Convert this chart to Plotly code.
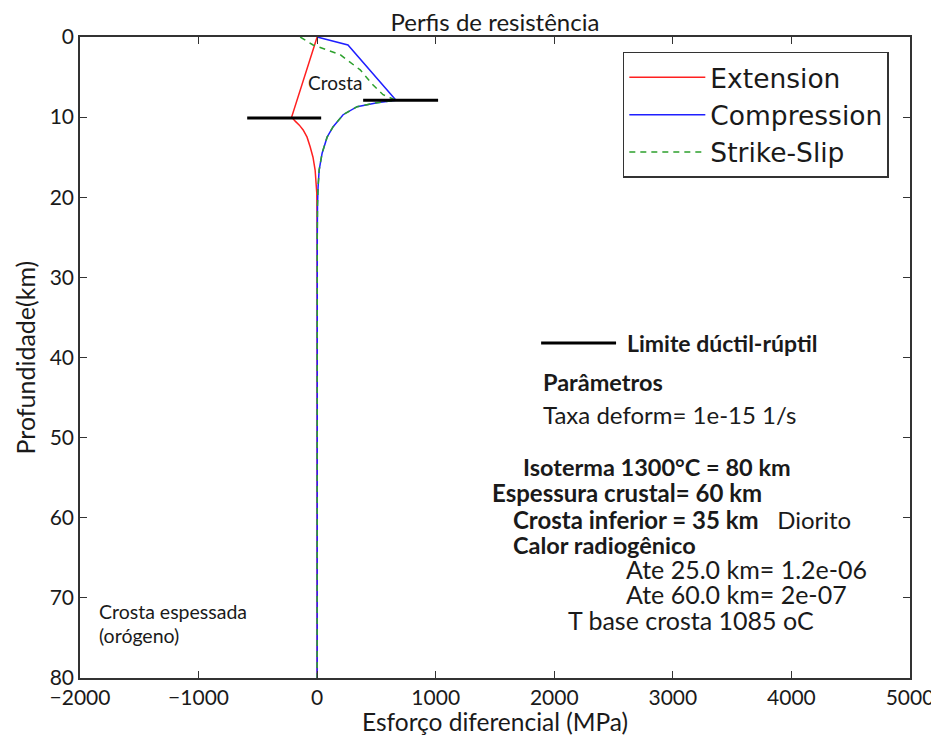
import plotly.graph_objects as go

# Perfis de resistencia
ext_depth = [0, 10.0, 10.5, 11.0, 11.6, 12.5, 13.7, 15.0, 16.6, 18.0, 19.5, 22.0, 25.0, 80.0]
ext_stress = [0, -215, -185, -150, -118, -85, -59, -35, -17, -8, -3, -1, 0, 0]

comp_depth = [0, 1.0, 7.9, 8.2, 8.7, 9.7, 11.2, 12.5, 14.5, 16.6, 18.7, 21.0, 25.0, 80.0]
comp_stress = [0, 260, 665, 506, 337, 219, 135, 84, 42, 17, 8, 3, 1, 0]

ss_depth = [0, 1.0, 2.2, 4.1, 6.0, 7.2, 7.9, 8.2, 8.7, 9.7, 11.2, 12.5, 14.5, 16.6, 18.7, 21.0, 25.0, 80.0]
ss_stress = [-143, -34, 194, 363, 472, 556, 665, 506, 337, 219, 135, 84, 42, 17, 8, 3, 1, 0]

# limites ductil-ruptil
bdt_ext_x = [-590, 34]
bdt_ext_y = [10.1, 10.1]
bdt_comp_x = [388, 1020]
bdt_comp_y = [7.9, 7.9]
key_x = [1889, 2521]
key_y = [38.2, 38.2]

TEXT_FONT = "Lato, 'Open Sans', sans-serif"
LEGEND_FONT = "'DejaVu Sans', sans-serif"
INK = "#1a1a1a"

fig = go.Figure()

fig.add_trace(go.Scatter(x=ext_stress, y=ext_depth, mode="lines", name="Extension",
                         legendgroup="a", line=dict(color="#ff2020", width=1.5)))
fig.add_trace(go.Scatter(x=comp_stress, y=comp_depth, mode="lines", name="Compression",
                         legendgroup="b", line=dict(color="#1f1fff", width=1.5)))
fig.add_trace(go.Scatter(x=ss_stress, y=ss_depth, mode="lines", name="Strike-Slip",
                         legendgroup="c", line=dict(color="#2ca02c", width=1.5, dash="6px,5px")))

for xs, ys in [(bdt_ext_x, bdt_ext_y), (bdt_comp_x, bdt_comp_y), (key_x, key_y)]:
    fig.add_trace(go.Scatter(x=xs, y=ys, mode="lines", showlegend=False,
                             line=dict(color="black", width=3)))

# (texto, x, profundidade, tamanho, ancora)
notes = [
    ("Crosta", 152, 5.7, 19, "center"),
    ("<b>Limite dúctil-rúptil</b>", 2597, 38.2, 23, "left"),
    ("<b>Parâmetros</b>", 1889, 43.1, 23.5, "left"),
    ("Taxa deform= 1e-15 1/s", 1889, 47.1, 24, "left"),
    ("<b>Isoterma 1300°C = 80 km</b>", 1720, 53.7, 23.5, "left"),
    ("<b>Espessura crustal= 60 km</b>", 1459, 56.8, 24, "left"),
    ("<b>Crosta inferior = 35 km</b>   Diorito", 1636, 60.2, 24, "left"),
    ("<b>Calor radiogênico</b>", 1636, 63.4, 23.5, "left"),
    ("Ate 25.0 km= 1.2e-06", 2589, 66.4, 25, "left"),
    ("Ate 60.0 km= 2e-07", 2589, 69.5, 25, "left"),
    ("T base crosta 1085 oC", 2100, 72.7, 25, "left"),
    ("Crosta espessada", -1855, 71.7, 19.5, "left"),
    ("(orógeno)", -1855, 74.7, 19.5, "left"),
]
for txt, x, y, size, anchor in notes:
    fig.add_annotation(x=x, y=y, xref="x", yref="y", text=txt, showarrow=False,
                       xanchor=anchor, yanchor="middle",
                       font=dict(family=TEXT_FONT, size=size, color=INK))

# axis titles placed as paper annotations to sit closer to the tick labels
fig.add_annotation(x=0.5, y=-0.068, xref="paper", yref="paper",
                   text="Esforço diferencial (MPa)", showarrow=False,
                   xanchor="center", yanchor="middle",
                   font=dict(family=TEXT_FONT, size=24.5, color=INK))
fig.add_annotation(x=-0.0663, y=0.5, xref="paper", yref="paper",
                   text="Profundidade(km)", showarrow=False, textangle=-90,
                   xanchor="center", yanchor="middle",
                   font=dict(family=TEXT_FONT, size=25, color=INK))

axis_common = dict(
    showline=True, linecolor="#333333", linewidth=1.5, mirror="ticks",
    ticks="inside", ticklen=7, tickcolor="#333333", showgrid=False, zeroline=False,
    automargin=False,
    tickfont=dict(family=TEXT_FONT, size=21, color=INK),
)

# the page body adds an 8px offset, so the figure is 8px smaller than the window
fig.update_layout(
    width=931, height=734,
    paper_bgcolor="white", plot_bgcolor="white",
    margin=dict(l=72, r=29, t=29, b=64),
    title=dict(text="Perfis de resistência", x=0.523, xanchor="center", y=0.9796, yanchor="middle",
               font=dict(family=TEXT_FONT, size=24, color=INK)),
    xaxis=dict(range=[-2000, 5000], dtick=1000, **axis_common),
    yaxis=dict(range=[80, 0], dtick=10, **axis_common),
    legend=dict(x=0.654, y=0.9766, xanchor="left", yanchor="top",
                bgcolor="white", bordercolor="#333333", borderwidth=1.5,
                tracegroupgap=0, itemwidth=76,
                font=dict(family=LEGEND_FONT, size=26.5, color=INK)),
    showlegend=True,
)

fig.write_html("out.html")
